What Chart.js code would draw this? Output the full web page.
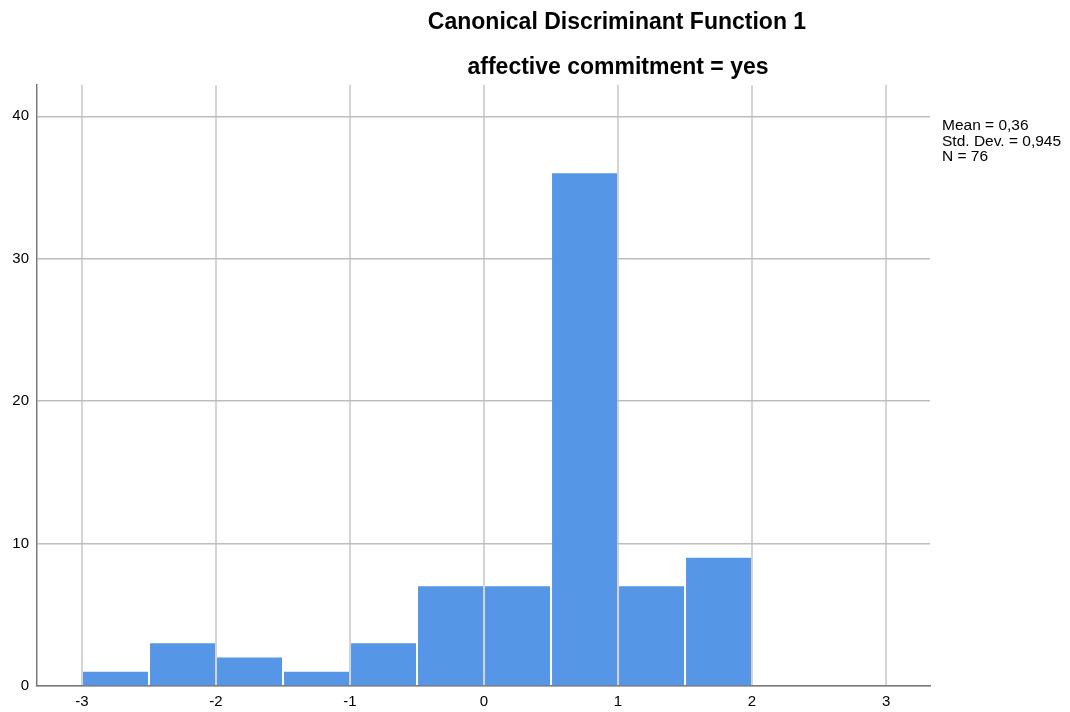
<!DOCTYPE html>
<html>
<head>
<meta charset="utf-8">
<script src="https://cdn.jsdelivr.net/npm/chart.js@4.4.1/dist/chart.umd.min.js"></script>
<style>
  html, body { margin: 0; padding: 0; background: #fff; }
  #wrap { width: 1070px; height: 712px; position: relative; }
</style>
</head>
<body>
<div id="wrap"><canvas id="histo" width="1070" height="712"></canvas></div>
<script>
// datos del histograma (intervalos de 0.5)
var binCenters = [-2.75, -2.25, -1.75, -1.25, -0.75, -0.25, 0.25, 0.75, 1.25, 1.75];
var frecuencias = [1, 3, 2, 1, 3, 7, 7, 36, 7, 9];
var xTicks = [-3, -2, -1, 0, 1, 2, 3];
var yTicks = [0, 10, 20, 30, 40];
var titulo = ['Canonical Discriminant Function 1', 'affective commitment = yes'];
var resumen = ['Mean = 0,36', 'Std. Dev. = 0,945', 'N = 76'];

var fuente = '"Liberation Sans", Arial, sans-serif';

var puntos = binCenters.map(function(c, i){ return {x: c, y: frecuencias[i]}; });

// titulo y texto de estadisticas
var textos = {
    id: 'textos',
    afterDraw: function(chart){
        var ctx = chart.ctx;
        ctx.save();
        ctx.fillStyle = '#000';
        ctx.textAlign = 'center';
        ctx.textBaseline = 'middle';
        ctx.font = 'bold 23px ' + fuente;
        ctx.fillText(titulo[0], 617, 23);
        ctx.fillText(titulo[1], 618, 68);
        ctx.textAlign = 'left';
        ctx.font = '15.5px ' + fuente;
        for(var i = 0; i < resumen.length; i++){
            ctx.fillText(resumen[i], 942, 126 + i * 15.5);
        }
        ctx.restore();
    }
};

var ctx = document.getElementById('histo').getContext('2d');
var chart = new Chart(ctx, {
    type: 'bar',
    data: {
        datasets: [{
            data: puntos,
            backgroundColor: '#5596e6',
            borderWidth: 0,
            barPercentage: 0.97,
            categoryPercentage: 1
        }]
    },
    options: {
        responsive: false,
        animation: false,
        layout: {padding: {left: 0, top: 85, right: 140, bottom: 0}},
        plugins: {
            legend: {display: false},
            tooltip: {enabled: false},
            title: {display: false}
        },
        scales: {
            x: {
                type: 'linear',
                offset: false,
                min: -3.336,
                max: 3.328,
                afterBuildTicks: function(axis){ axis.ticks = xTicks.map(function(v){ return {value: v}; }); },
                afterFit: function(axis){ axis.height = 26; },
                ticks: {color: '#000', font: {family: fuente, size: 15}, padding: 7},
                grid: {color: '#d4d4d4', lineWidth: 2, drawTicks: false, offset: false},
                border: {color: '#7a7a7a', width: 1.5}
            },
            y: {
                min: 0,
                max: 42.2,
                afterBuildTicks: function(axis){ axis.ticks = yTicks.map(function(v){ return {value: v}; }); },
                afterFit: function(axis){ axis.width = 37; },
                ticks: {color: '#000', font: {family: fuente, size: 15}, padding: 8},
                grid: {color: '#bdbdbd', lineWidth: 1.5, drawTicks: false},
                border: {color: '#7a7a7a', width: 1.5}
            }
        }
    },
    plugins: [textos]
});
</script>
</body>
</html>
